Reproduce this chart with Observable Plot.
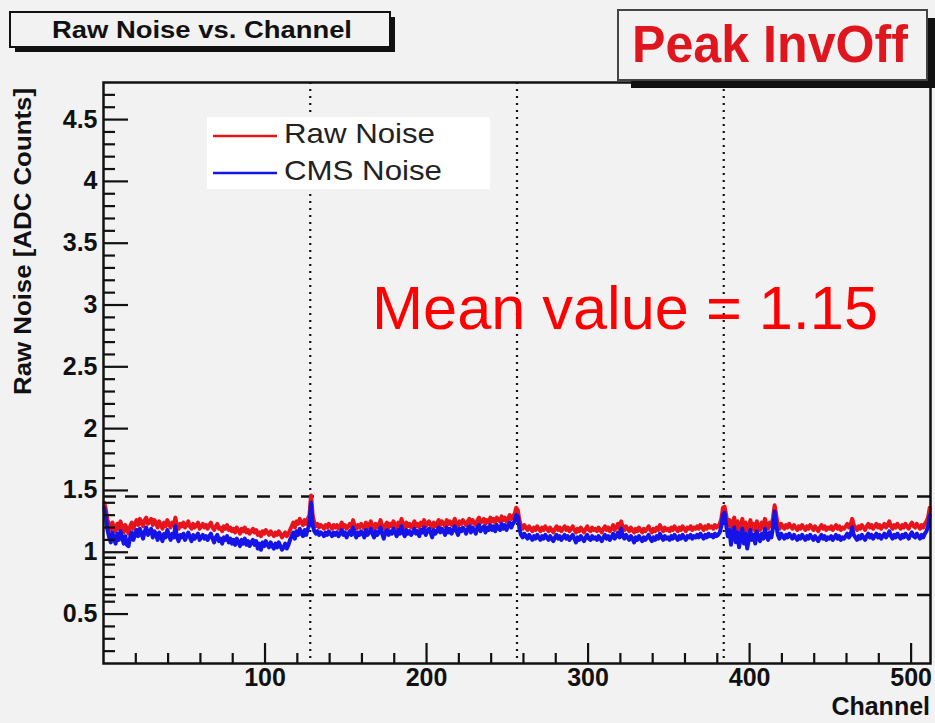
<!DOCTYPE html>
<html><head><meta charset="utf-8">
<script src="https://cdn.jsdelivr.net/npm/d3@7"></script>
<script src="https://cdn.jsdelivr.net/npm/@observablehq/plot@0.6"></script>
<style>
html,body{margin:0;padding:0;background:#f2f2f2;}
#chart{width:935px;height:723px;}
svg{display:block;}
</style></head><body><div id="chart"></div>
<script>
// Raw noise per channel (ADC counts), channels 0..511
const rawNoise = [
1.40,1.34,1.26,1.22,1.18,1.24,1.20,1.17,1.23,1.19,1.25,1.21,1.16,1.22,1.19,1.15,
1.21,1.24,1.19,1.23,1.26,1.22,1.27,1.24,1.21,1.26,1.28,1.23,1.25,1.27,1.22,1.26,
1.24,1.20,1.25,1.22,1.19,1.24,1.21,1.26,1.23,1.20,1.24,1.22,1.28,1.21,1.19,1.23,
1.21,1.24,1.20,1.22,1.25,1.21,1.19,1.23,1.20,1.22,1.24,1.19,1.21,1.23,1.20,1.22,
1.19,1.22,1.24,1.20,1.18,1.21,1.23,1.19,1.20,1.17,1.21,1.19,1.22,1.18,1.20,1.17,
1.19,1.16,1.20,1.18,1.15,1.19,1.17,1.20,1.16,1.18,1.15,1.17,1.19,1.16,1.18,1.14,
1.16,1.13,1.17,1.15,1.18,1.16,1.14,1.17,1.15,1.13,1.16,1.14,1.17,1.15,1.12,1.14,
1.16,1.13,1.15,1.18,1.21,1.24,1.20,1.25,1.23,1.27,1.24,1.22,1.26,1.23,1.27,1.30,
1.46,1.30,1.24,1.21,1.23,1.20,1.22,1.21,1.19,1.22,1.20,1.23,1.21,1.19,1.22,1.20,
1.22,1.19,1.21,1.24,1.20,1.22,1.19,1.21,1.23,1.20,1.26,1.21,1.19,1.22,1.20,1.23,
1.21,1.19,1.24,1.20,1.22,1.25,1.21,1.19,1.23,1.20,1.22,1.26,1.21,1.19,1.22,1.24,
1.20,1.23,1.21,1.25,1.22,1.20,1.24,1.21,1.27,1.22,1.20,1.24,1.21,1.23,1.20,1.22,
1.25,1.21,1.23,1.20,1.24,1.22,1.26,1.21,1.23,1.25,1.22,1.20,1.24,1.21,1.23,1.26,
1.22,1.25,1.23,1.21,1.26,1.23,1.25,1.22,1.24,1.27,1.23,1.21,1.25,1.23,1.26,1.24,
1.22,1.25,1.27,1.23,1.26,1.24,1.22,1.26,1.28,1.24,1.25,1.27,1.23,1.26,1.24,1.28,
1.25,1.27,1.24,1.28,1.26,1.25,1.29,1.26,1.28,1.25,1.27,1.30,1.27,1.29,1.31,1.36,
1.34,1.26,1.21,1.19,1.22,1.20,1.18,1.21,1.19,1.17,1.20,1.18,1.21,1.19,1.17,1.20,
1.18,1.21,1.19,1.17,1.20,1.18,1.16,1.19,1.21,1.18,1.20,1.17,1.19,1.21,1.18,1.20,
1.17,1.19,1.21,1.18,1.16,1.19,1.17,1.20,1.18,1.16,1.19,1.21,1.18,1.17,1.20,1.18,
1.19,1.17,1.20,1.18,1.16,1.19,1.21,1.18,1.20,1.17,1.19,1.22,1.18,1.20,1.23,1.19,
1.25,1.20,1.18,1.21,1.19,1.17,1.20,1.18,1.16,1.19,1.17,1.20,1.18,1.16,1.19,1.17,
1.19,1.21,1.18,1.16,1.19,1.17,1.20,1.18,1.22,1.19,1.17,1.20,1.18,1.19,1.17,1.20,
1.18,1.21,1.19,1.17,1.20,1.18,1.21,1.19,1.17,1.20,1.19,1.21,1.18,1.20,1.19,1.21,
1.19,1.22,1.20,1.18,1.21,1.19,1.22,1.20,1.21,1.19,1.22,1.20,1.21,1.23,1.27,1.36,
1.37,1.30,1.22,1.26,1.16,1.24,1.28,1.18,1.25,1.14,1.21,1.27,1.17,1.24,1.12,1.20,
1.26,1.19,1.23,1.17,1.25,1.21,1.18,1.24,1.20,1.27,1.22,1.19,1.24,1.21,1.28,1.38,
1.30,1.22,1.19,1.23,1.21,1.19,1.22,1.20,1.23,1.21,1.19,1.22,1.20,1.18,1.21,1.19,
1.22,1.20,1.18,1.21,1.19,1.22,1.20,1.18,1.21,1.19,1.17,1.20,1.22,1.19,1.21,1.18,
1.20,1.19,1.21,1.18,1.20,1.22,1.19,1.21,1.18,1.20,1.19,1.21,1.23,1.20,1.22,1.27,
1.22,1.20,1.18,1.21,1.19,1.22,1.20,1.18,1.21,1.23,1.20,1.22,1.19,1.21,1.23,1.20,
1.22,1.19,1.21,1.23,1.20,1.22,1.25,1.21,1.19,1.22,1.20,1.23,1.21,1.19,1.22,1.20,
1.23,1.21,1.19,1.22,1.24,1.21,1.20,1.23,1.21,1.19,1.22,1.20,1.23,1.25,1.28,1.36
];
// Common-mode-subtracted noise per channel
const cmsNoise = [
1.36,1.28,1.18,1.12,1.08,1.16,1.11,1.07,1.15,1.10,1.17,1.12,1.07,1.13,1.06,1.05,
1.12,1.16,1.10,1.14,1.18,1.13,1.19,1.15,1.11,1.17,1.20,1.14,1.16,1.19,1.12,1.17,
1.15,1.10,1.16,1.13,1.09,1.15,1.12,1.18,1.14,1.10,1.15,1.12,1.21,1.12,1.09,1.14,
1.12,1.15,1.10,1.13,1.16,1.12,1.09,1.14,1.11,1.13,1.15,1.10,1.12,1.14,1.11,1.13,
1.10,1.13,1.15,1.11,1.08,1.12,1.14,1.09,1.11,1.07,1.12,1.10,1.13,1.08,1.11,1.07,
1.10,1.06,1.11,1.08,1.05,1.10,1.07,1.11,1.06,1.09,1.05,1.08,1.10,1.06,1.09,1.03,
1.07,1.02,1.08,1.05,1.09,1.06,1.04,1.08,1.05,1.03,1.07,1.04,1.08,1.05,1.02,1.04,
1.07,1.03,1.06,1.10,1.13,1.16,1.11,1.17,1.14,1.19,1.15,1.13,1.18,1.14,1.19,1.22,
1.40,1.22,1.17,1.15,1.17,1.14,1.16,1.15,1.13,1.16,1.14,1.17,1.15,1.13,1.16,1.14,
1.16,1.13,1.15,1.18,1.14,1.16,1.12,1.15,1.17,1.14,1.20,1.15,1.12,1.16,1.14,1.17,
1.15,1.12,1.18,1.14,1.16,1.19,1.15,1.12,1.17,1.14,1.16,1.20,1.15,1.11,1.16,1.18,
1.14,1.17,1.15,1.19,1.16,1.13,1.18,1.15,1.21,1.16,1.13,1.18,1.15,1.17,1.14,1.16,
1.19,1.15,1.17,1.13,1.18,1.16,1.20,1.14,1.17,1.19,1.16,1.12,1.18,1.15,1.17,1.20,
1.16,1.19,1.17,1.14,1.20,1.16,1.19,1.15,1.18,1.21,1.17,1.14,1.19,1.17,1.20,1.18,
1.15,1.19,1.21,1.16,1.20,1.18,1.15,1.20,1.22,1.17,1.19,1.21,1.16,1.20,1.18,1.22,
1.18,1.21,1.17,1.22,1.19,1.18,1.23,1.19,1.22,1.18,1.21,1.24,1.20,1.23,1.25,1.30,
1.29,1.19,1.14,1.12,1.15,1.13,1.11,1.14,1.12,1.10,1.13,1.11,1.14,1.12,1.10,1.13,
1.11,1.14,1.12,1.10,1.13,1.11,1.09,1.12,1.14,1.11,1.13,1.10,1.12,1.14,1.11,1.13,
1.10,1.12,1.14,1.11,1.08,1.12,1.10,1.13,1.11,1.09,1.12,1.14,1.11,1.10,1.13,1.11,
1.12,1.10,1.13,1.11,1.09,1.12,1.14,1.11,1.13,1.10,1.12,1.15,1.11,1.13,1.16,1.12,
1.19,1.13,1.11,1.14,1.12,1.10,1.13,1.11,1.08,1.12,1.10,1.13,1.11,1.09,1.12,1.10,
1.12,1.14,1.11,1.09,1.12,1.10,1.13,1.11,1.15,1.12,1.10,1.13,1.11,1.12,1.10,1.13,
1.11,1.14,1.12,1.10,1.13,1.11,1.14,1.12,1.10,1.13,1.12,1.14,1.11,1.13,1.12,1.14,
1.12,1.15,1.13,1.11,1.14,1.12,1.15,1.13,1.14,1.12,1.15,1.13,1.14,1.16,1.21,1.30,
1.32,1.22,1.13,1.18,1.06,1.15,1.20,1.08,1.16,1.04,1.12,1.19,1.07,1.15,1.03,1.10,
1.18,1.10,1.14,1.07,1.17,1.12,1.09,1.15,1.11,1.19,1.13,1.10,1.16,1.12,1.20,1.33,
1.22,1.14,1.11,1.15,1.13,1.11,1.14,1.12,1.15,1.13,1.11,1.14,1.12,1.10,1.13,1.11,
1.14,1.12,1.10,1.13,1.11,1.14,1.12,1.10,1.13,1.11,1.09,1.12,1.14,1.11,1.13,1.10,
1.12,1.11,1.13,1.10,1.12,1.14,1.11,1.13,1.10,1.12,1.11,1.13,1.15,1.12,1.14,1.20,
1.14,1.12,1.10,1.13,1.11,1.14,1.12,1.10,1.13,1.15,1.12,1.14,1.11,1.13,1.15,1.12,
1.14,1.11,1.13,1.15,1.12,1.14,1.17,1.13,1.11,1.14,1.12,1.15,1.13,1.11,1.14,1.12,
1.15,1.13,1.11,1.14,1.16,1.13,1.12,1.15,1.13,1.11,1.14,1.12,1.15,1.17,1.21,1.30
];
const seriesNames = ["Raw Noise", "CMS Noise"];
const seriesColors = ["#e8141c", "#1414e8"];
const channelDomain = [0, 512];
const noiseDomain = [0.1, 4.8];
const xMajorTicks = [100, 200, 300, 400, 500];
const xMinorTicks = [20,40,60,80,120,140,160,180,220,240,260,280,320,340,360,380,420,440,460,480];
const yMajorTicks = [0.5, 1, 1.5, 2, 2.5, 3, 3.5, 4, 4.5];
const yMinorTicks = [0.2,0.3,0.4,0.6,0.7,0.8,0.9,1.1,1.2,1.3,1.4,1.6,1.7,1.8,1.9,2.1,2.2,2.3,2.4,2.6,2.7,2.8,2.9,3.1,3.2,3.3,3.4,3.6,3.7,3.8,3.9,4.1,4.2,4.3,4.4,4.6,4.7];
const chipBoundaries = [128, 256, 384];
const noiseLimits = [1.45, 0.955, 0.655];
const meanValue = 1.15;
const titleText = "Raw Noise vs. Channel";
const tagText = "Peak InvOff";
const xLabel = "Channel";
const yLabel = "Raw Noise [ADC Counts]";

const rawRows = rawNoise.map((v, i) => ({channel: i + 0.5, value: v}));
const cmsRows = cmsNoise.map((v, i) => ({channel: i + 0.5, value: v}));
const FONT = "'Liberation Sans', Arial, Helvetica, sans-serif";
const bottom = noiseDomain[0];

const plot = Plot.plot({
  width: 935, height: 723,
  marginLeft: 103, marginRight: 5, marginTop: 82, marginBottom: 60,
  style: {background: "#f2f2f2", fontFamily: FONT, overflow: "visible"},
  x: {domain: channelDomain},
  y: {domain: noiseDomain},
  marks: [
    Plot.ruleX(chipBoundaries, {stroke: "#111", strokeWidth: 2.2, strokeDasharray: "2,5"}),
    Plot.ruleY(noiseLimits, {stroke: "#111", strokeWidth: 2.5, strokeDasharray: "13,9"}),
    Plot.line(rawRows, {x: "channel", y: "value", stroke: seriesColors[0], strokeWidth: 4}),
    Plot.line(cmsRows, {x: "channel", y: "value", stroke: seriesColors[1], strokeWidth: 4}),
    // inward ROOT-style ticks
    Plot.ruleY(yMajorTicks, {x1: channelDomain[0], x2: channelDomain[0], insetRight: -25, stroke: "#111", strokeWidth: 2.2}),
    Plot.ruleY(yMinorTicks, {x1: channelDomain[0], x2: channelDomain[0], insetRight: -12, stroke: "#111", strokeWidth: 2.2}),
    Plot.ruleX(xMajorTicks, {y1: bottom, y2: bottom, insetBottom: 20, stroke: "#111", strokeWidth: 2.2}),
    Plot.ruleX(xMinorTicks, {y1: bottom, y2: bottom, insetBottom: 10, stroke: "#111", strokeWidth: 2.2}),
    Plot.axisY(yMajorTicks, {tickSize: 0, tickPadding: 6, fontSize: 25, fontWeight: "bold", fill: "#111", label: null, tickFormat: d => String(d)}),
    Plot.axisX(xMajorTicks, {tickSize: 0, tickPadding: 5, fontSize: 25, fontWeight: "bold", fill: "#111", label: null, tickFormat: d => String(d)}),
    Plot.frame({stroke: "#111", strokeWidth: 2.5})
  ]
});
document.getElementById("chart").appendChild(plot);

const svg = d3.select(plot);
const g = svg.append("g").attr("font-family", FONT).attr("text-anchor", "start");

// Legend
const leg = g.append("g");
leg.append("rect").attr("x", 207).attr("y", 117).attr("width", 283).attr("height", 72).attr("fill", "#ffffff");
seriesNames.forEach((name, i) => {
  const yy = 136 + i * 37;
  leg.append("line").attr("x1", 213).attr("x2", 277).attr("y1", yy).attr("y2", yy)
    .attr("stroke", seriesColors[i]).attr("stroke-width", 2.5);
  leg.append("text").attr("x", 284).attr("y", yy + 7)
    .attr("font-size", 28).attr("fill", "#222").attr("textLength", i === 0 ? 151 : 158)
    .attr("lengthAdjust", "spacingAndGlyphs").text(name);
});

// Mean value annotation
g.append("text").attr("x", 372).attr("y", 329).attr("font-size", 61).attr("fill", "#ff0000")
  .attr("textLength", 506).attr("lengthAdjust", "spacingAndGlyphs")
  .text(`Mean value = ${meanValue.toFixed(2)}`);

// Title box
g.append("rect").attr("x", 15).attr("y", 17).attr("width", 380).attr("height", 35).attr("fill", "#111");
g.append("rect").attr("x", 10).attr("y", 12).attr("width", 380).attr("height", 35)
  .attr("fill", "#f2f2f2").attr("stroke", "#111").attr("stroke-width", 2);
g.append("text").attr("x", 52).attr("y", 38).attr("font-size", 23)
  .attr("font-weight", "bold").attr("fill", "#111").attr("textLength", 300)
  .attr("lengthAdjust", "spacingAndGlyphs").text(titleText);

// Tag box
g.append("rect").attr("x", 631).attr("y", 18).attr("width", 304).attr("height", 70).attr("fill", "#111");
g.append("rect").attr("x", 618).attr("y", 10).attr("width", 309).attr("height", 70)
  .attr("fill", "#f2f2f2").attr("stroke", "#444").attr("stroke-width", 2);
g.append("text").attr("x", 632).attr("y", 62).attr("font-size", 51).attr("font-weight", "bold")
  .attr("fill", "#e0161e").attr("textLength", 276).attr("lengthAdjust", "spacingAndGlyphs").text(tagText);

// Axis titles
g.append("text").attr("x", 930).attr("y", 715).attr("text-anchor", "end").attr("font-size", 25)
  .attr("font-weight", "bold").attr("fill", "#111").text(xLabel);
g.append("text").attr("transform", "translate(31,88) rotate(-90)").attr("text-anchor", "end")
  .attr("font-size", 23).attr("font-weight", "bold").attr("fill", "#111")
  .attr("textLength", 307).attr("lengthAdjust", "spacingAndGlyphs").text(yLabel);
</script>
</body></html>
